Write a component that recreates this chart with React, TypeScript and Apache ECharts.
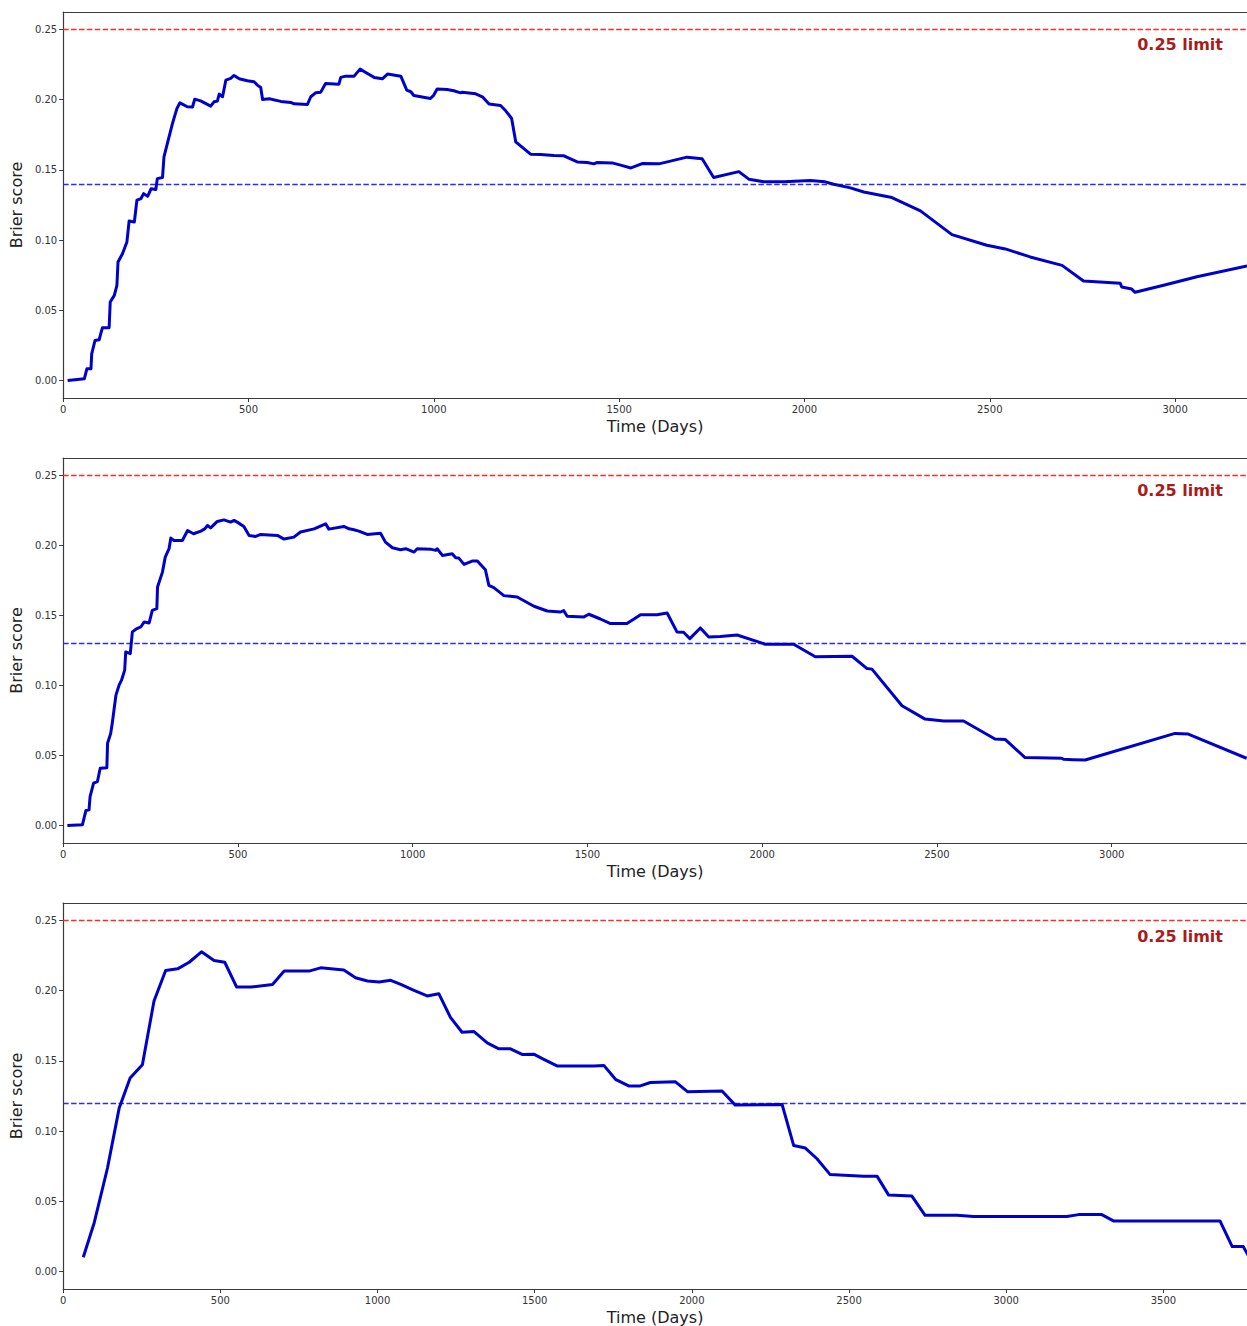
import React, { useEffect, useRef } from "react";
import * as echarts from "echarts";

// ---------- data ----------
const days1 = [12, 57, 64, 75, 77, 86, 97, 106, 124, 127, 138, 145, 148, 160, 172, 178, 192, 199, 210, 217, 228, 237, 250, 254, 268, 272, 281, 295, 307, 315, 335, 349, 355, 371, 398, 407, 416, 421, 430, 439, 452, 461, 475, 497, 515, 524, 533, 538, 556, 587, 614, 623, 659, 668, 681, 695, 708, 744, 749, 762, 785, 801, 821, 839, 861, 875, 911, 927, 938, 946, 991, 1000, 1009, 1036, 1054, 1072, 1077, 1113, 1131, 1149, 1180, 1194, 1210, 1221, 1234, 1261, 1288, 1324, 1351, 1387, 1414, 1432, 1441, 1481, 1504, 1532, 1562, 1607, 1630, 1683, 1724, 1755, 1823, 1850, 1890, 1944, 2016, 2056, 2079, 2124, 2160, 2236, 2313, 2398, 2492, 2542, 2609, 2695, 2753, 2852, 2856, 2883, 2892, 2969, 3059, 3194];
const brier1 = [0, 0.0012, 0.0083, 0.0083, 0.019, 0.0285, 0.029, 0.0376, 0.0376, 0.0559, 0.0606, 0.0678, 0.0844, 0.0903, 0.0987, 0.1136, 0.1129, 0.1284, 0.1296, 0.1331, 0.1312, 0.1365, 0.136, 0.1438, 0.1446, 0.1593, 0.1688, 0.1831, 0.1938, 0.1978, 0.195, 0.1948, 0.2004, 0.1992, 0.1954, 0.1985, 0.199, 0.204, 0.2021, 0.214, 0.2152, 0.2173, 0.2149, 0.2135, 0.2128, 0.2104, 0.2087, 0.2002, 0.2007, 0.1988, 0.1981, 0.1971, 0.1966, 0.2021, 0.2049, 0.2054, 0.2116, 0.2111, 0.2159, 0.2168, 0.2168, 0.2218, 0.2187, 0.2159, 0.2149, 0.2183, 0.2168, 0.2068, 0.2057, 0.203, 0.2009, 0.2033, 0.2076, 0.2073, 0.2064, 0.2049, 0.2054, 0.2042, 0.2021, 0.1969, 0.1959, 0.1921, 0.1866, 0.17, 0.1671, 0.1612, 0.161, 0.1602, 0.16, 0.1557, 0.1553, 0.1543, 0.1553, 0.155, 0.1534, 0.1514, 0.1545, 0.1543, 0.1557, 0.1591, 0.1579, 0.1446, 0.1488, 0.1434, 0.1415, 0.1415, 0.1424, 0.1415, 0.1398, 0.1372, 0.1343, 0.1303, 0.1208, 0.1039, 0.0963, 0.0937, 0.088, 0.082, 0.0709, 0.0692, 0.0666, 0.0651, 0.0628, 0.0678, 0.0739, 0.0816];

const days2 = [12, 55, 65, 74, 77, 87, 98, 106, 125, 127, 136, 141, 151, 160, 167, 176, 179, 192, 198, 211, 222, 232, 246, 255, 268, 270, 284, 292, 303, 308, 317, 341, 356, 373, 394, 405, 413, 422, 441, 460, 479, 489, 498, 517, 532, 551, 565, 613, 632, 660, 679, 718, 751, 760, 803, 818, 832, 846, 870, 908, 922, 942, 965, 980, 1004, 1013, 1051, 1066, 1070, 1085, 1113, 1123, 1132, 1147, 1170, 1185, 1208, 1218, 1232, 1261, 1299, 1347, 1385, 1423, 1432, 1442, 1490, 1504, 1537, 1566, 1613, 1652, 1699, 1728, 1756, 1775, 1793, 1823, 1847, 1880, 1928, 2009, 2090, 2152, 2257, 2300, 2314, 2400, 2466, 2519, 2576, 2666, 2695, 2752, 2857, 2862, 2890, 2924, 3181, 3219, 3386];
const brier2 = [0, 0.0005, 0.0107, 0.0112, 0.0207, 0.0302, 0.0314, 0.0409, 0.0413, 0.0587, 0.0658, 0.0741, 0.0931, 0.1003, 0.1038, 0.111, 0.124, 0.1228, 0.1383, 0.1407, 0.1418, 0.1454, 0.1447, 0.1537, 0.1549, 0.1703, 0.181, 0.1917, 0.1977, 0.2053, 0.2036, 0.2036, 0.2107, 0.2084, 0.2103, 0.2119, 0.2143, 0.2126, 0.2172, 0.2183, 0.2167, 0.2179, 0.2167, 0.2136, 0.2072, 0.2065, 0.2079, 0.2072, 0.2046, 0.206, 0.2096, 0.2119, 0.2155, 0.2117, 0.2136, 0.2119, 0.2112, 0.2103, 0.2079, 0.2088, 0.2024, 0.1984, 0.197, 0.1977, 0.1953, 0.1977, 0.1974, 0.1965, 0.1977, 0.1929, 0.1941, 0.1913, 0.191, 0.1865, 0.1889, 0.1889, 0.1827, 0.1715, 0.1699, 0.1642, 0.1632, 0.1566, 0.1532, 0.1525, 0.1535, 0.1494, 0.149, 0.1509, 0.1475, 0.1442, 0.1442, 0.1506, 0.1506, 0.1518, 0.1383, 0.138, 0.1335, 0.1411, 0.1347, 0.135, 0.1361, 0.1295, 0.1295, 0.1205, 0.1209, 0.1121, 0.1117, 0.0855, 0.076, 0.0746, 0.0746, 0.0618, 0.0615, 0.0485, 0.048, 0.0473, 0.047, 0.0468, 0.0658, 0.0653, 0.048];

const days3 = [64, 99, 141, 178, 213, 252, 289, 326, 364, 401, 440, 480, 514, 552, 597, 666, 703, 782, 819, 893, 930, 968, 1005, 1042, 1074, 1116, 1158, 1195, 1232, 1269, 1307, 1349, 1386, 1423, 1460, 1497, 1529, 1571, 1688, 1720, 1757, 1799, 1836, 1868, 1948, 1987, 2096, 2138, 2287, 2324, 2361, 2398, 2440, 2546, 2589, 2626, 2700, 2742, 2843, 2896, 3193, 3230, 3304, 3341, 3680, 3719, 3754, 3776];
const brier3 = [0.0101, 0.0349, 0.0737, 0.1162, 0.1378, 0.1473, 0.1927, 0.2144, 0.2156, 0.2203, 0.2277, 0.2215, 0.2203, 0.2026, 0.2026, 0.2045, 0.214, 0.214, 0.2163, 0.2147, 0.2092, 0.2069, 0.2062, 0.2074, 0.2045, 0.2003, 0.1963, 0.1979, 0.181, 0.1704, 0.1709, 0.1628, 0.1586, 0.1586, 0.1546, 0.1548, 0.1511, 0.1464, 0.1464, 0.1468, 0.1369, 0.1322, 0.1322, 0.1346, 0.1351, 0.128, 0.1285, 0.1185, 0.119, 0.0897, 0.0879, 0.0803, 0.069, 0.0679, 0.0679, 0.0544, 0.0537, 0.04, 0.04, 0.0391, 0.0391, 0.0405, 0.0405, 0.036, 0.036, 0.0177, 0.0177, 0.009];

const meanScores = [0.139, 0.127, 0.1175];
const limitValue = 0.25;
const limitLabel = "0.25 limit";
const xMaxValues = [3194, 3387, 3766];
const xTicks1 = [0, 500, 1000, 1500, 2000, 2500, 3000];
const xTicks2 = [0, 500, 1000, 1500, 2000, 2500, 3000];
const xTicks3 = [0, 500, 1000, 1500, 2000, 2500, 3000, 3500];
const yTicks = [0, 0.05, 0.1, 0.15, 0.2, 0.25];
const xTitle = "Time (Days)";
const yTitle = "Brier score";

const panels = [
  { days: days1, vals: brier1, ticks: xTicks1 },
  { days: days2, vals: brier2, ticks: xTicks2 },
  { days: days3, vals: brier3, ticks: xTicks3 },
];

const gridTops = [12, 458, 903];
const gridHeights = [386, 385, 386];
const labelTops = [36, 482, 928];
const FONT = "DejaVu Sans";
const AXIS_COLOR = "#3a3a3a";

export default function App() {
  const ref = useRef<HTMLDivElement>(null);
  useEffect(() => {
    if (!ref.current) return;
    const chart = echarts.init(ref.current, undefined, { renderer: "svg" });

    const grid: any[] = [];
    const xAxis: any[] = [];
    const yAxis: any[] = [];
    const series: any[] = [];
    const graphic: any[] = [];

    panels.forEach((p, i) => {
      grid.push({ left: 62, right: 0, top: gridTops[i], height: gridHeights[i] });
      xAxis.push({
        type: "value",
        gridIndex: i,
        min: 0,
        max: xMaxValues[i],
        position: "bottom",
        axisLine: { show: true, onZero: false, lineStyle: { color: AXIS_COLOR, width: 1.2 } },
        axisTick: { show: true, customValues: p.ticks, length: 4, lineStyle: { color: AXIS_COLOR } },
        axisLabel: {
          show: true,
          customValues: p.ticks,
          formatter: (v: number) => String(v),
          fontSize: 10,
          color: "#333",
          fontFamily: FONT,
          margin: 6,
        },
        splitLine: { show: false },
        name: xTitle,
        nameLocation: "middle",
        nameGap: 20,
        nameTextStyle: { fontSize: 16, color: "#222", fontFamily: FONT },
      });
      xAxis.push({
        type: "value",
        gridIndex: i,
        min: 0,
        max: xMaxValues[i],
        position: "top",
        axisLine: { show: true, onZero: false, lineStyle: { color: AXIS_COLOR, width: 1.2 } },
        axisTick: { show: false },
        axisLabel: { show: false },
        splitLine: { show: false },
      });
      yAxis.push({
        type: "value",
        gridIndex: i,
        min: -0.0125,
        max: 0.2625,
        axisLine: { show: true, onZero: false, lineStyle: { color: AXIS_COLOR, width: 1.2 } },
        axisTick: { show: true, customValues: yTicks, length: 4, lineStyle: { color: AXIS_COLOR } },
        axisLabel: {
          show: true,
          customValues: yTicks,
          formatter: (v: number) => v.toFixed(2),
          fontSize: 10,
          color: "#333",
          fontFamily: FONT,
          margin: 6,
        },
        splitLine: { show: false },
        name: yTitle,
        nameLocation: "middle",
        nameGap: 37,
        nameRotate: 90,
        nameTextStyle: { fontSize: 16, color: "#222", fontFamily: FONT },
      });
      series.push({
        type: "line",
        xAxisIndex: 2 * i,
        yAxisIndex: i,
        data: p.days.map((d, k) => [d, p.vals[k]]),
        showSymbol: false,
        symbol: "none",
        clip: true,
        lineStyle: { color: "#0000cc", width: 3, join: "round" },
        z: 3,
        markLine: {
          silent: true,
          symbol: ["none", "none"],
          label: { show: false },
          z: 2,
          data: [
            { yAxis: limitValue, lineStyle: { color: "#ff2a2a", width: 1.4, type: [5.5, 2.4] } },
            { yAxis: meanScores[i], lineStyle: { color: "#2b2bff", width: 1.4, type: [5.5, 2.4] } },
          ],
        },
      });
      graphic.push({
        type: "text",
        right: 24,
        top: labelTops[i],
        style: {
          text: limitLabel,
          fill: "#a81c1c",
          fontSize: 16,
          fontWeight: "bold",
          fontFamily: FONT,
        },
      });
    });

    chart.setOption({
      animation: false,
      backgroundColor: "#ffffff",
      grid,
      xAxis,
      yAxis,
      series,
      graphic,
    });
    return () => chart.dispose();
  }, []);

  return (
    <div
      ref={ref}
      style={{ position: "absolute", left: 0, top: 0, width: 1247, height: 1326 }}
    />
  );
}
